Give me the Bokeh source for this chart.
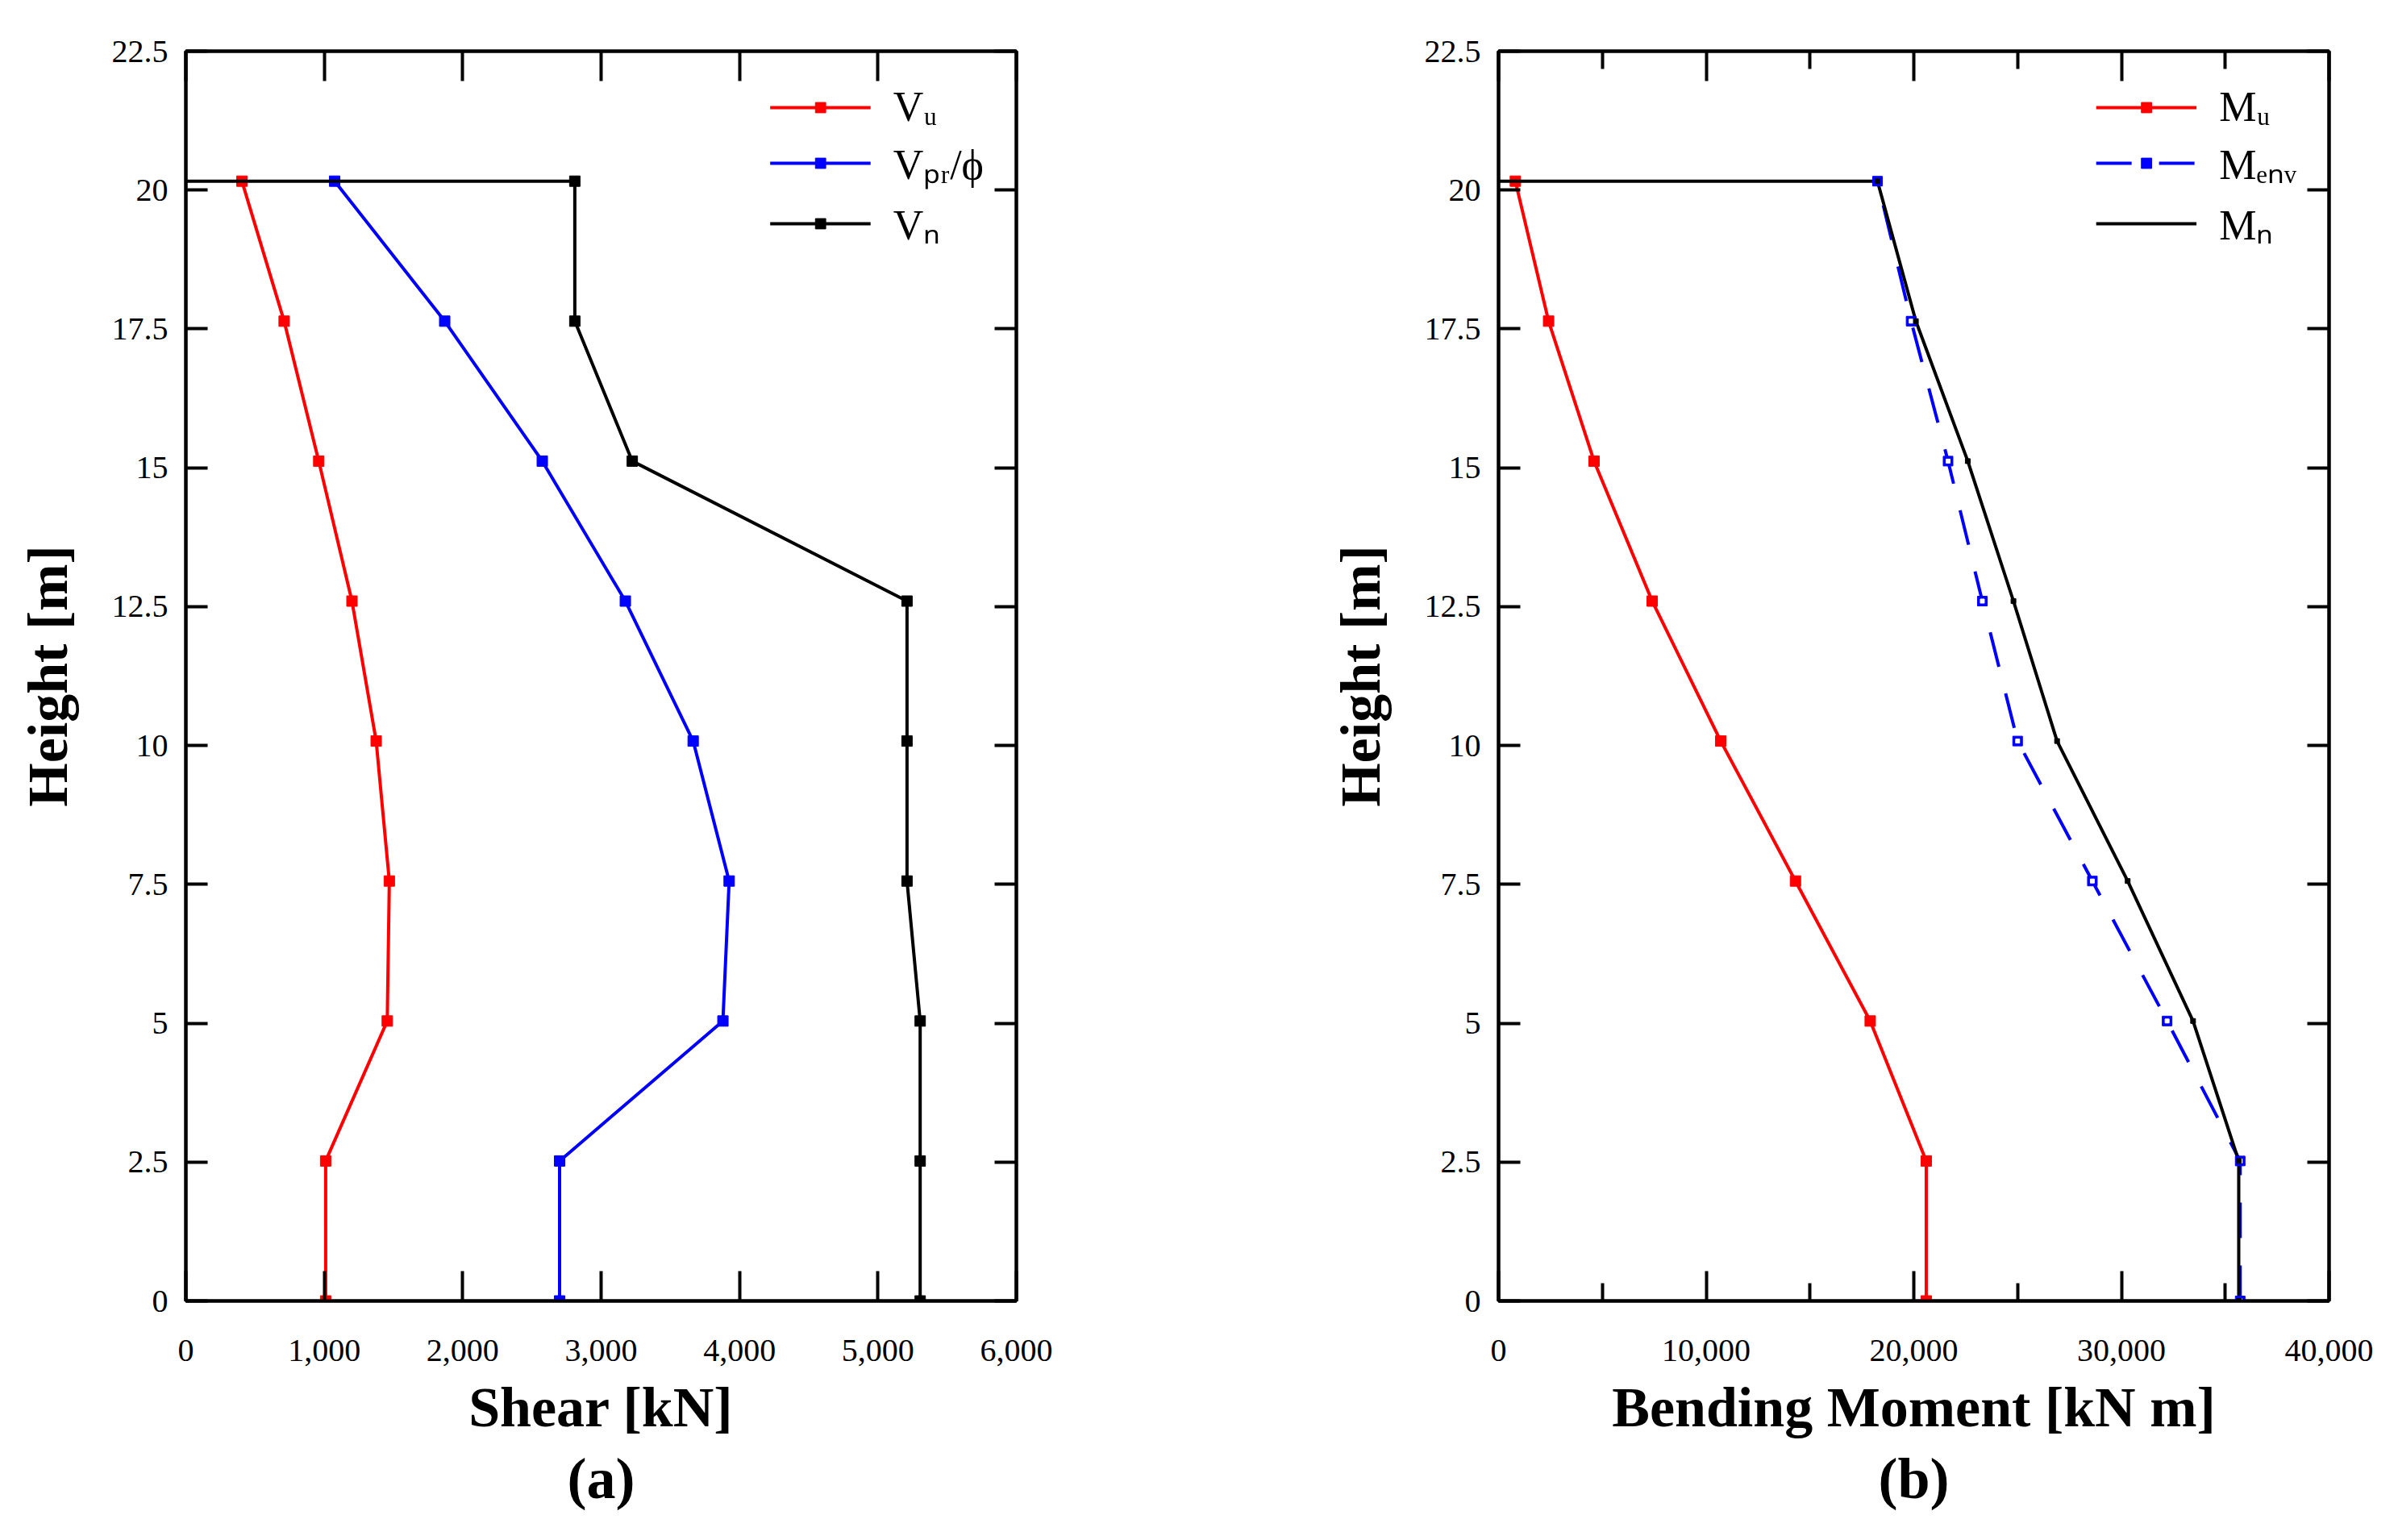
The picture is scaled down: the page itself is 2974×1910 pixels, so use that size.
from bokeh.plotting import figure
from bokeh.models import (Range1d, FixedTicker, NumeralTickFormatter, LinearAxis,
                          Legend, LegendItem, Title)
from bokeh.layouts import row
from bokeh.embed import file_html
from bokeh.resources import INLINE

# ---------------- data ----------------
height = [0.0, 2.52, 5.04, 7.56, 10.08, 12.6, 15.12, 17.64, 20.16]
shear_vu = [1010, 1010, 1455, 1470, 1375, 1200, 960, 710, 405]
shear_vpr = [2700, 2700, 3880, 3925, 3665, 3175, 2575, 1870, 1075]
shear_vn = [5305, 5305, 5305, 5210, 5210, 5210, 3225, 2810, 2810]
moment_mu = [20600, 20600, 17900, 14300, 10700, 7400, 4600, 2410, 810]
moment_menv = [35720, 35720, 32200, 28600, 25000, 23300, 21650, 19870, 18250]
moment_mn = [35650, 35650, 33450, 30300, 26900, 24800, 22600, 20100, 18250]
top_start = 0  # capacity lines start at the left axis at roof level

y_ticks = [0, 2.5, 5, 7.5, 10, 12.5, 15, 17.5, 20, 22.5]
shear_ticks = [0, 1000, 2000, 3000, 4000, 5000, 6000]
moment_ticks = [0, 10000, 20000, 30000, 40000]
moment_minor = [5000, 15000, 25000, 35000]

FONT = "Liberation Serif"


def make_fig(xmax, xticks, xminor, xlabel, tag, b_left, b_right):
    fw, fh = 1030, 1550
    bt, bb = 63, 281
    p = figure(width=b_left + fw + b_right, height=bt + fh + bb,
               frame_width=fw, frame_height=fh,
               x_range=Range1d(0, xmax), y_range=Range1d(0, 22.5),
               output_backend="svg", toolbar_location=None, title=None,
               min_border_left=b_left, min_border_right=b_right,
               min_border_top=bt, min_border_bottom=bb)
    p.grid.visible = False
    p.outline_line_color = "black"
    p.outline_line_width = 4
    p.background_fill_color = "white"

    xt = FixedTicker(ticks=xticks, minor_ticks=xminor)
    yt = FixedTicker(ticks=y_ticks, minor_ticks=[])

    xa = p.xaxis[0]
    xa.ticker = xt
    xa.formatter = NumeralTickFormatter(format="0,0")
    ya = p.yaxis[0]
    ya.ticker = yt
    ya.formatter = NumeralTickFormatter(format="0.[0]")

    top = LinearAxis(ticker=xt)
    right = LinearAxis(ticker=yt)
    p.add_layout(top, "above")
    p.add_layout(right, "right")

    for ax in (xa, top):
        ax.major_tick_in = 37
        ax.major_tick_out = 0
        ax.minor_tick_in = 22
        ax.minor_tick_out = 0
    for ax in (ya, right):
        ax.major_tick_in = 27
        ax.major_tick_out = 0
        ax.minor_tick_line_color = None
    for ax in (xa, top, ya, right):
        ax.axis_line_width = 4
        ax.major_tick_line_width = 4
        ax.minor_tick_line_width = 4
        ax.major_label_text_font = FONT
        ax.major_label_text_font_size = "40px"
        ax.major_label_text_color = "black"
    for ax in (top, right):
        # frame-side ticks only, no labels drawn
        ax.major_label_text_color = None
        ax.major_label_text_font_size = "8px"
        ax.major_label_standoff = 0
    xa.major_label_standoff = 48
    ya.major_label_standoff = 22

    xa.axis_label = xlabel
    ya.axis_label = "Height [m]"
    for ax in (xa, ya):
        ax.axis_label_text_font = FONT
        ax.axis_label_text_font_style = "bold"
        ax.axis_label_text_font_size = "70px"
        ax.axis_label_text_color = "black"
    xa.axis_label_standoff = 16
    ya.axis_label_standoff = 38

    p.add_layout(Title(text=tag, align="center", text_font=FONT,
                       text_font_style="bold", text_font_size="72px",
                       text_color="black", standoff=10), "below")
    return p


def style_legend(p, items):
    leg = Legend(items=items, location="top_right", border_line_color=None,
                 background_fill_alpha=0, margin=40, padding=0,
                 glyph_width=125, glyph_height=32, label_height=56,
                 spacing=4, label_standoff=28,
                 label_text_font=FONT, label_text_font_size="52px",
                 label_text_color="black")
    p.add_layout(leg)


# ---------------- (a) Shear ----------------
pa = make_fig(6000, shear_ticks, [], "Shear [kN]", "(a)", 230, 227)

vu_l = pa.line(shear_vu, height, line_color="#ff0000", line_width=4)
vu_s = pa.scatter(shear_vu, height, marker="square", size=13,
                  fill_color="#ff0000", line_color="#ff0000")
vpr_l = pa.line(shear_vpr, height, line_color="#0000ff", line_width=4)
vpr_s = pa.scatter(shear_vpr, height, marker="square", size=13,
                   fill_color="#0000ff", line_color="#0000ff")
vn_l = pa.line(shear_vn + [top_start], height + [height[-1]],
               line_color="black", line_width=4)
vn_s = pa.scatter(shear_vn, height, marker="square", size=13,
                  fill_color="black", line_color="black")

style_legend(pa, [
    LegendItem(label="V\u1d64", renderers=[vu_l, vu_s]),
    LegendItem(label="V\u209a\u1d63/\u03d5", renderers=[vpr_l, vpr_s]),
    LegendItem(label="V\u2099", renderers=[vn_l, vn_s]),
])

# ---------------- (b) Bending moment ----------------
pb = make_fig(40000, moment_ticks, moment_minor, "Bending Moment [kN m]",
              "(b)", 371, 70)

mu_l = pb.line(moment_mu, height, line_color="#ff0000", line_width=4)
mu_s = pb.scatter(moment_mu, height, marker="square", size=13,
                  fill_color="#ff0000", line_color="#ff0000")
me_l = pb.line(moment_menv, height, line_color="#0000ff", line_width=4,
               line_dash="44 34")
mn_l = pb.line(moment_mn + [top_start], height + [height[-1]],
               line_color="black", line_width=4)
me_s = pb.scatter(moment_menv, height, marker="square", size=12,
                  fill_color="#0000ff", line_color="#0000ff")
pb.scatter(moment_menv, height, marker="square", size=5,
           fill_color="white", line_color="white")
pb.scatter(moment_mn, height, marker="square", size=6,
           fill_color="black", line_color="black")

style_legend(pb, [
    LegendItem(label="M\u1d64", renderers=[mu_l, mu_s]),
    LegendItem(label="M\u2091\u2099\u1d65", renderers=[me_l, me_s]),
    LegendItem(label="M\u2099", renderers=[mn_l]),
])

layout = row(pa, pb)
open("out.html", "w").write(file_html(layout, INLINE))
